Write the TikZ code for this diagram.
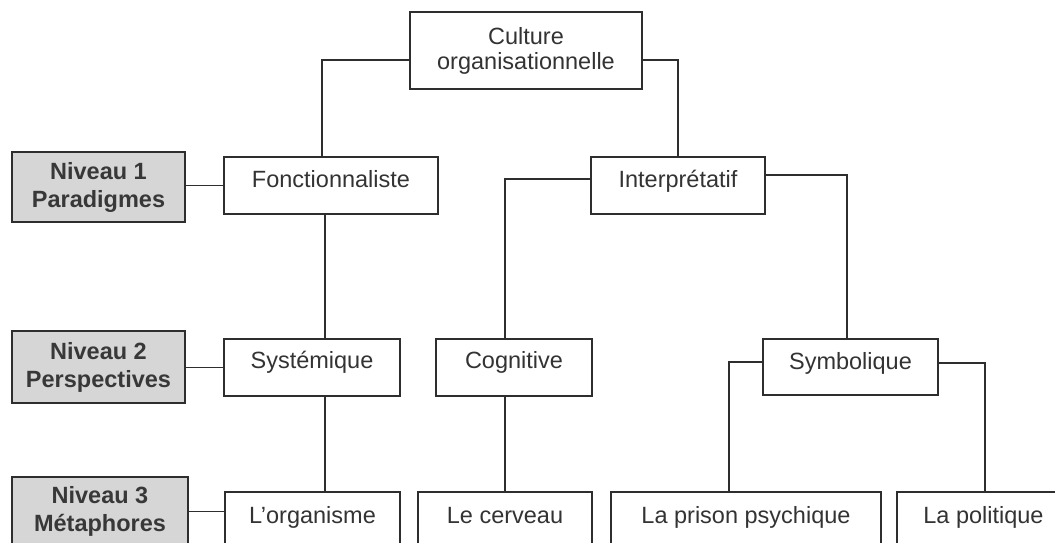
\documentclass[tikz,border=0pt]{standalone}
\usepackage{fontspec}
\setmainfont{Liberation Sans}
\begin{document}
\begin{tikzpicture}[x=1pt,y=-1pt,
  line width=1.6pt, draw=black!82,
  every node/.style={font=\fontsize{23.5}{26}\selectfont, text=black!80},
  box/.style={draw, rectangle, inner xsep=0pt, inner ysep=0pt, anchor=north},
  onebox/.style={box, text height=31pt, text depth=26pt},
  lastbox/.style={box, text height=32pt, text depth=70pt},
  lvl/.style={draw, rectangle, fill=gray!32, align=center, inner sep=0pt,
    font=\fontsize{23.5}{28}\selectfont\bfseries, text=black!78},
  conn/.style={draw=black!82, line width=1.6pt}
]
\clip (0,0) rectangle (1055,543);
\fill[white] (0,0) rectangle (1055,543);

% top
\node[draw, rectangle, align=center, inner sep=0pt, minimum width=232pt, minimum height=77pt,
  font=\fontsize{23.5}{25}\selectfont] (cult) at (526,50.5) {Culture\\organisationnelle};

% level 1
\node[onebox, minimum width=214pt] (fonc) at (331,156) {Fonctionnaliste};
\node[onebox, minimum width=174pt] (interp) at (678,156) {Interprétatif};

% level 2
\node[box, text height=30pt, text depth=27pt, minimum width=176pt] (syst) at (312,338) {Systémique};
\node[box, text height=30pt, text depth=27pt, minimum width=156pt] (cogn) at (514,338) {Cognitive};
\node[box, text height=31pt, text depth=25pt, minimum width=175pt] (symb) at (850.5,338) {Symbolique};

% level 3
\node[lastbox, minimum width=175pt] (org) at (312.5,491) {L'organisme};
\node[lastbox, minimum width=174pt] (cerv) at (505,491) {Le cerveau};
\node[lastbox, minimum width=270pt] (pris) at (746,491) {La prison psychique};
\node[lastbox, minimum width=173pt] (pol) at (983.5,491) {La politique};

% level labels
\node[lvl, minimum width=173pt, minimum height=70pt] (n1) at (98.5,187) {Niveau 1\\Paradigmes};
\node[lvl, minimum width=173pt, minimum height=72pt] (n2) at (98.5,367) {Niveau 2\\Perspectives};
\node[lvl, minimum width=176pt, minimum height=69pt] (n3) at (100,511.5) {Niveau 3\\Métaphores};

% connectors
\draw[conn] ([yshift=-9.5pt]cult.west) -| ([xshift=-9pt]fonc.north);
\draw[conn] ([yshift=-9.5pt]cult.east) -| (interp.north);
\draw[conn] ([xshift=-6pt]fonc.south) -- ([xshift=-6pt]fonc.south |- syst.north);
\draw[conn] ([xshift=13pt]syst.south) -- ([xshift=13pt]syst.south |- org.north);
\draw[conn] ([yshift=6.5pt]interp.west) -| ([xshift=-9pt]cogn.north);
\draw[conn] ([yshift=10.5pt]interp.east) -| ([xshift=-3.5pt]symb.north);
\draw[conn] ([xshift=-9pt]cogn.south) -- ([xshift=-9pt]cogn.south |- cerv.north);
\draw[conn] ([yshift=5pt]symb.west) -| ([xshift=-17pt]pris.north);
\draw[conn] ([yshift=4pt]symb.east) -| ([xshift=1.5pt]pol.north);
\draw[conn] (fonc.west -| n1.east) -- (fonc.west);
\draw[conn] (syst.west -| n2.east) -- (syst.west);
\draw[conn] (n3.east) -- (n3.east -| org.west);
\end{tikzpicture}
\end{document}
